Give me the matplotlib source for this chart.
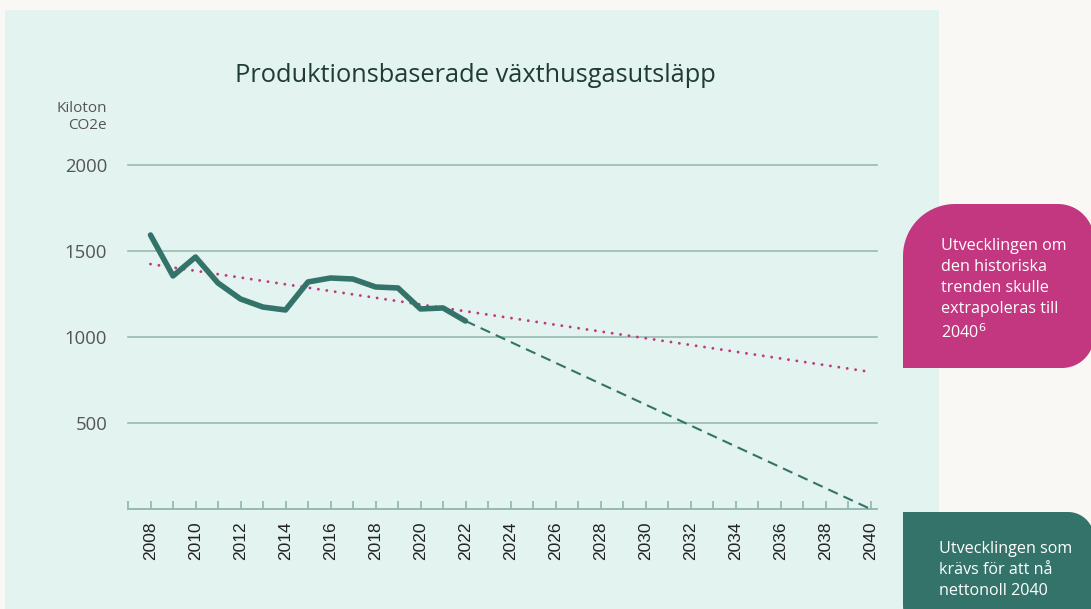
import numpy as np
import matplotlib
matplotlib.use("Agg")
import matplotlib.pyplot as plt
from matplotlib.patches import Polygon, Rectangle

# data
years = [2008, 2009, 2010, 2011, 2012, 2013, 2014, 2015,
         2016, 2017, 2018, 2019, 2020, 2021, 2022]
emissions = [1593, 1355, 1465, 1314, 1221, 1174, 1157, 1320,
             1343, 1337, 1291, 1285, 1163, 1169, 1093]
netzero_years = [2022, 2040]
netzero_values = [1093, 0]
trend_years = [2008, 2040]
trend_values = [1424, 797]
ytick_values = [500, 1000, 1500, 2000]
xtick_years = list(range(2007, 2041))

W, H = 1091, 609
green = '#33736a'
pink = '#c2377f'
gridc = '#8fb6ab'
panel = '#e3f3ef'
outer = '#f9f8f4'


def rounded_shape(x0, y0, x1, y1, r_tl, r_tr, r_br, r_bl, n=20):
    """Polygon points (pixel coords, y down) for a box with per-corner radii."""
    pts = []
    def corner(cx, cy, px, py, r, a0, a1):
        if r <= 0:
            pts.append((px, py))
            return
        for a in np.linspace(a0, a1, n):
            pts.append((cx + r * np.cos(a), cy + r * np.sin(a)))
    corner(x0 + r_tl, y0 + r_tl, x0, y0, r_tl, np.pi, 1.5 * np.pi)
    corner(x1 - r_tr, y0 + r_tr, x1, y0, r_tr, 1.5 * np.pi, 2 * np.pi)
    corner(x1 - r_br, y1 - r_br, x1, y1, r_br, 0, 0.5 * np.pi)
    corner(x0 + r_bl, y1 - r_bl, x0, y1, r_bl, 0.5 * np.pi, np.pi)
    return pts


fig = plt.figure(figsize=(W / 100, H / 100), dpi=100, facecolor=outer)

# background layer in pixel coordinates
bg = fig.add_axes([0, 0, 1, 1], zorder=0)
bg.set_xlim(0, W)
bg.set_ylim(H, 0)
bg.axis('off')
bg.add_patch(Rectangle((5, 10), 934, 610, facecolor=panel, edgecolor='none'))
bg.add_patch(Polygon(rounded_shape(903, 204, 1094, 368, 52, 36, 32, 0),
                     closed=True, facecolor=pink, edgecolor='none'))
bg.add_patch(Polygon(rounded_shape(903, 512, 1094, 650, 0, 26, 0, 45),
                     closed=True, facecolor=green, edgecolor='none'))
bg.text(941, 238, 'Utvecklingen om\nden historiska\ntrenden skulle\nextrapoleras till\n2040$^{6}$',
        color='white', fontsize=11.6, family='Open Sans', va='top', ha='left',
        linespacing=1.42)
bg.text(939, 541, 'Utvecklingen som\nkrävs för att nå\nnettonoll 2040',
        color='white', fontsize=11.6, family='Open Sans', va='top', ha='left',
        linespacing=1.42)

# main chart
left, right, top, bottom = 128, 877, 165, 509
ax = fig.add_axes([left / W, 1 - bottom / H, (right - left) / W, (bottom - top) / H],
                  zorder=1)
ax.set_facecolor('none')
ax.set_xlim(2007, 2007 + (right - left) / 22.5)
ax.set_ylim(0, 2000)

for s in ['top', 'right', 'left']:
    ax.spines[s].set_visible(False)
ax.spines['bottom'].set_color(gridc)
ax.spines['bottom'].set_linewidth(1.3)

for v in ytick_values:
    ax.axhline(v, color=gridc, lw=1.1, zorder=1, clip_on=False)

ax.plot(trend_years, trend_values, color=pink, lw=2.1, ls=(0, (0.01, 2.9)),
        dash_capstyle='round', zorder=3)
ax.plot(netzero_years, netzero_values, color=green, lw=1.5, ls=(0, (5, 3)), zorder=3)
ax.plot(years, emissions, color=green, lw=4.0, solid_joinstyle='round',
        solid_capstyle='round', zorder=4)

ax.set_yticks(ytick_values)
ax.set_yticklabels([str(v) for v in ytick_values], family='Open Sans',
                   fontsize=13.3, color='#555555')
ax.tick_params(axis='y', length=0, pad=15)

ax.set_xticks(xtick_years)
ax.set_xticklabels([str(y) if y % 2 == 0 else '' for y in xtick_years],
                   rotation=90, family='Liberation Sans', fontsize=12.5,
                   color='#222222')
ax.tick_params(axis='x', direction='in', length=6, width=1.2, color=gridc, pad=9)

fig.text(475 / W, 1 - 76 / H, 'Produktionsbaserade växthusgasutsläpp',
         ha='center', va='center', fontsize=18.3, family='Open Sans', color='#1f3b35')
fig.text(107 / W, 1 - 117 / H, 'Kiloton\nCO2e', ha='right', va='center',
         fontsize=11, family='Open Sans', color='#555555', linespacing=1.15)

fig.savefig('out.png', dpi=100, facecolor=outer)
